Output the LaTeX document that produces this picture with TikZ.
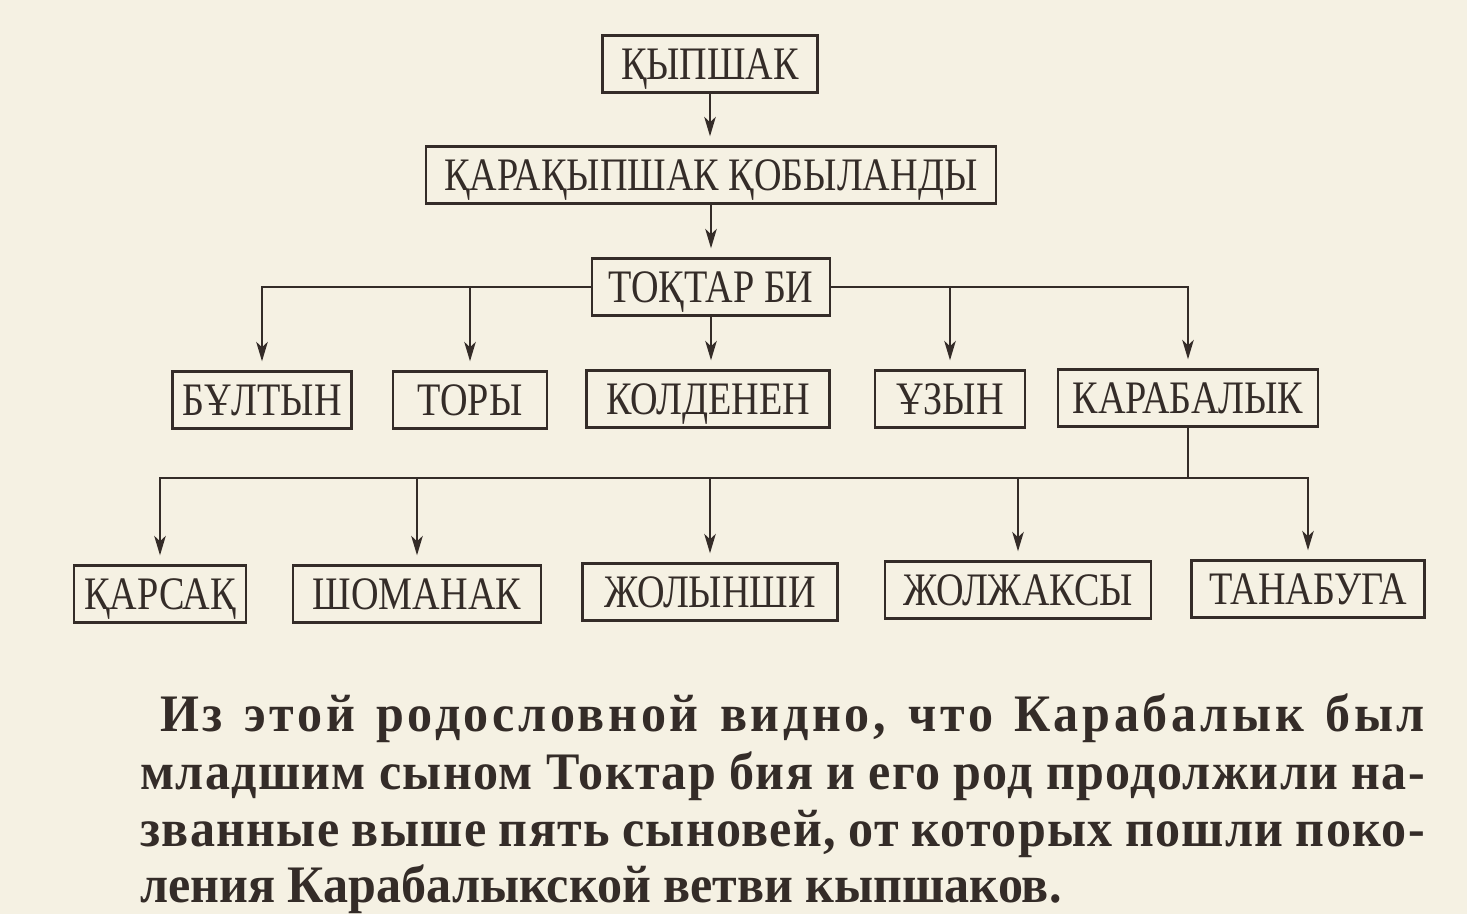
\documentclass[tikz,border=0pt]{standalone}
\usepackage{fontspec}
\setmainfont{Liberation Serif}
\newfontfamily\boxfont[FakeStretch=0.82]{Liberation Serif}
\newfontfamily\parafont[FakeStretch=0.95]{Liberation Serif}
\usetikzlibrary{arrows.meta, positioning}
\definecolor{paper}{RGB}{245,241,227}
\definecolor{ink}{RGB}{52,44,40}

\begin{document}
\begin{tikzpicture}[x=0.02cm, y=-0.02cm,
  >={Stealth[length=11pt, width=6.5pt, inset=3pt]},
  gen/.style={draw=ink, line width=1.6pt, minimum height=1.14cm, inner sep=0pt,
    text height=17.5pt, text depth=0pt, text=ink,
    font=\boxfont\fontsize{26.5}{30}\selectfont},
  link/.style={draw=ink, line width=1.5pt, ->, shorten >=5pt},
  para/.style={anchor=base west, inner sep=0pt, text=ink,
    font=\parafont\fontsize{30}{36}\selectfont\bfseries}]
\fill[paper] (0,0) rectangle (1467,914);
\useasboundingbox (0,0) rectangle (1467,914);
% root line
\node[gen, minimum width=4.3cm] (kypshak) at (710,64) {ҚЫПШАК};
\node[gen, minimum width=11.4cm] (kobylandy) at (711,175) {ҚАРАҚЫПШАК ҚОБЫЛАНДЫ};
\node[gen, minimum width=4.76cm] (toktar) at (711,287) {ТОҚТАР БИ};
% sons of Toktar bi
\node[gen, minimum width=3.58cm] (bultyn) at (262,400) {БҰЛТЫН};
\node[gen, minimum width=3.08cm] (tory) at (470,400) {ТОРЫ};
\node[gen, minimum width=4.86cm] (koldenen) at (708,399) {КОЛДЕНЕН};
\node[gen, minimum width=3.0cm] (uzyn) at (950,399) {ҰЗЫН};
\node[gen, minimum width=5.2cm] (karabalyk) at (1188,398) {КАРАБАЛЫК};
% sons of Karabalyk
\node[gen, minimum width=3.44cm] (karsak) at (160,594) {ҚАРСАҚ};
\node[gen, minimum width=4.96cm] (shomanak) at (417,594) {ШОМАНАК};
\node[gen, minimum width=5.1cm] (zholynshy) at (710,592) {ЖОЛЫНШИ};
\node[gen, minimum width=5.32cm] (zholzhaksy) at (1018,590) {ЖОЛЖАКСЫ};
\node[gen, minimum width=4.66cm] (tanabuga) at (1308,589) {ТАНАБУГА};
\coordinate (fork) at (karabalyk.south |- 0,478);

\draw[link] (kypshak) -- (kypshak |- kobylandy.north);
\draw[link] (kobylandy.south -| toktar) -- (toktar);
\draw[link] (toktar.west) -| (bultyn.north);
\draw[link] (tory.north |- toktar.west) -- (tory.north);
\draw[link] (toktar) -- (toktar |- koldenen.north);
\draw[link] (uzyn.north |- toktar.east) -- (uzyn.north);
\draw[link] (toktar.east) -| (karabalyk.north);
\draw[link] (karabalyk.south) -- (fork) -| (karsak.north);
\draw[link] (fork) -| (tanabuga.north);
\draw[link] (shomanak.north |- fork) -- (shomanak.north);
\draw[link] (zholynshy.north |- fork) -- (zholynshy.north);
\draw[link] (zholzhaksy.north |- fork) -- (zholzhaksy.north);

% text under the tree
\node[para] (l1) at (160,731) {\addfontfeature{LetterSpace=7}\makebox[25.3cm][s]{Из этой родословной видно, что Карабалык был}};
\node[para] (l2) at (140,789) {\addfontfeature{LetterSpace=2.5}\makebox[25.7cm][s]{младшим сыном Токтар бия и его род продолжили на-}};
\node[para] (l3) at (140,846) {\addfontfeature{LetterSpace=2.5}\makebox[25.7cm][s]{званные выше пять сыновей, от которых пошли поко-}};
\node[para] (l4) at (140,902) {ления Карабалыкской ветви кыпшаков.};
\end{tikzpicture}
\end{document}
